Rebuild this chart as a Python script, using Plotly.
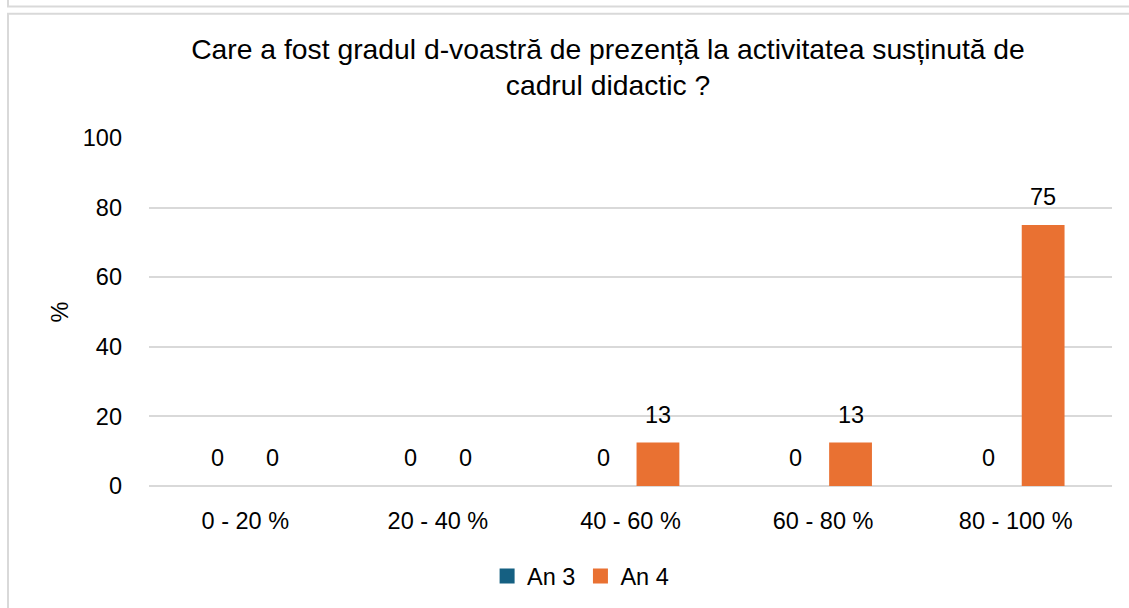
import plotly.graph_objects as go

categories = ["0 - 20 %", "20 - 40 %", "40 - 60 %", "60 - 80 %", "80 - 100 %"]
an3 = [0, 0, 0, 0, 0]
an4 = [0, 0, 12.5, 12.5, 75]
an3_labels = ["0", "0", "0", "0", "0"]
an4_labels = ["0", "0", "13", "13", "75"]
series_names = ["An 3", "An 4"]
colors = ["#156082", "#E97132"]
y_ticks = [0, 20, 40, 60, 80, 100]

W, H = 1129, 608
L, R, T, B = 149, 17, 137.5, 121.5
pw, ph = W - L - R, H - T - B
FONT = "Liberation Sans, Arial"

def px_x(p):
    return (p - L) / pw

def px_y(p):
    return (H - B - p) / ph

fig = go.Figure()
for name, vals, col in zip(series_names, [an3, an4], colors):
    fig.add_trace(go.Bar(x=categories, y=vals, name=name, marker_color=col,
                         marker_line_width=0, showlegend=False, legendgroup=name))
for name, col in zip(series_names, colors):
    fig.add_trace(go.Scatter(x=[None], y=[None], mode="markers", name=name, legendgroup=name,
                             marker=dict(symbol="square", size=15, color=col)))

annotations = []
shift = [-27.5, 27.5]
for si, (vals, labs) in enumerate([(an3, an3_labels), (an4, an4_labels)]):
    for c, v, t in zip(categories, vals, labs):
        annotations.append(dict(x=c, y=v, xref="x", yref="y", text=t,
                                showarrow=False, xshift=shift[si], yshift=28, yanchor="middle",
                                font=dict(family=FONT, size=23.5, color="#000")))

shapes = [
    dict(type="rect", xref="paper", yref="paper", x0=px_x(8), x1=px_x(1145), y0=px_y(-50), y1=px_y(5.5),
         line=dict(color="#D9D9D9", width=2), fillcolor="rgba(0,0,0,0)", layer="below"),
    dict(type="rect", xref="paper", yref="paper", x0=px_x(8), x1=px_x(1145), y0=px_y(620), y1=px_y(13),
         line=dict(color="#D9D9D9", width=2), fillcolor="rgba(0,0,0,0)", layer="below"),
]

fig.update_layout(
    width=W, height=H,
    margin=dict(l=L, r=R, t=T, b=B, autoexpand=False),
    paper_bgcolor="white", plot_bgcolor="white",
    barmode="group", bargap=0.43, bargroupgap=0.22,
    title=dict(text="Care a fost gradul d-voastră de prezență la activitatea susținută de<br>cadrul didactic ?",
               x=608 / W, xanchor="center", y=1 - 58.5 / H, yanchor="middle",
               font=dict(family=FONT, size=28.3, color="#000")),
    font=dict(family=FONT, size=23.5, color="#000"),
    legend=dict(orientation="h", x=506 / W, xanchor="center", y=px_y(577), yanchor="middle",
                font=dict(size=23.5), bgcolor="rgba(0,0,0,0)", traceorder="normal",
                itemclick=False, itemdoubleclick=False),
    annotations=annotations,
    shapes=shapes,
)
fig.update_xaxes(showgrid=False, showline=False, ticks="", tickfont=dict(size=23.5), ticklabelstandoff=18)
fig.update_yaxes(range=[0, 100], tickvals=y_ticks, showgrid=True, gridcolor="#D9D9D9", gridwidth=2,
                 zeroline=True, zerolinecolor="#D9D9D9", zerolinewidth=2, showline=False, ticks="",
                 tickfont=dict(size=23.5), ticklabelstandoff=26,
                 title=dict(text="%", font=dict(size=23.5), standoff=7))

fig.write_html("out.html", config={"displayModeBar": False},
               post_script="document.body.style.margin='0';")
